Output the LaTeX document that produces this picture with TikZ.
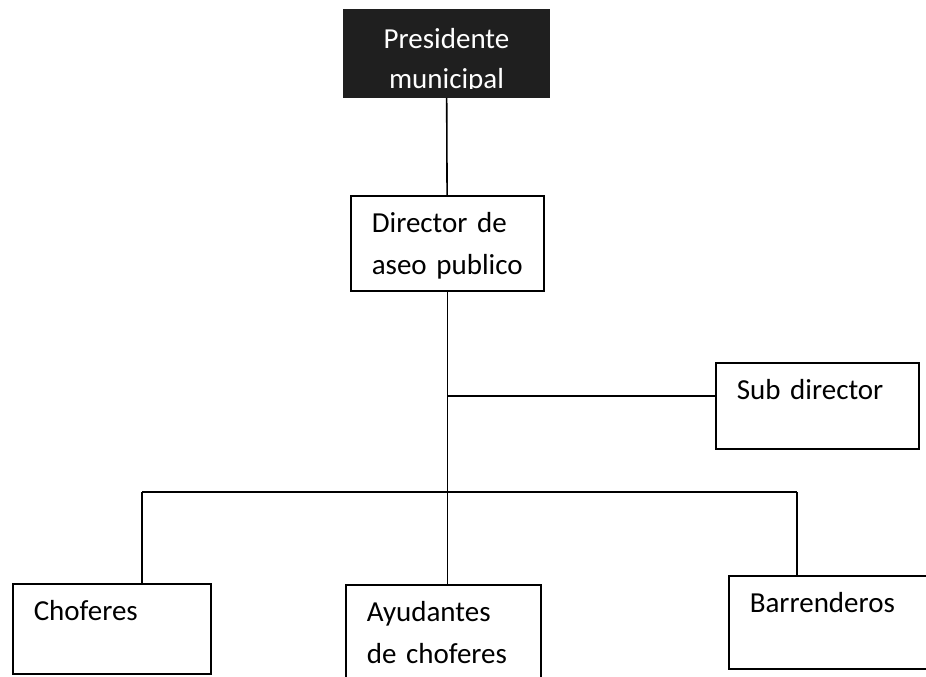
\documentclass[tikz,border=0pt]{standalone}
\usepackage{fontspec}
\setmainfont{Carlito}

\begin{document}
\begin{tikzpicture}[line width=0.9pt,
        org box/.style = {draw,anchor=north west,align=left,inner xsep=0.42cm,inner ysep=0pt,text height=0.74cm,font=\fontsize{16.5}{23.8}\selectfont},
        boss box/.style = {fill=black!88,text=white,anchor=north west,align=center,inner sep=0pt,outer sep=0pt,text width=4.14cm,text height=0.80cm,text depth=0.98cm,font=\fontsize{16.5}{22.7}\selectfont}]
        \useasboundingbox (0,0) rectangle (18.52,-13.54);
        % boxes
        \node[boss box] (pres) at (6.86,-0.18) {Presidente\\municipal};
        \fill[black!88] ([yshift=0.18cm]pres.south west) rectangle (pres.south east);
        \node[org box,text width=3.02cm,text depth=1.16cm] (dir) at (7.00,-3.90) {Director de\\aseo publico};
        \node[org box,text width=3.22cm,text depth=0.98cm] (sub) at (14.30,-7.24) {Sub director};
        \node[org box,text width=3.12cm,text depth=1.06cm] (chof) at (0.24,-11.66) {Choferes};
        \node[org box,text width=3.06cm,text depth=1.30cm] (ayud) at (6.90,-11.68) {Ayudantes\\de choferes};
        \node[org box,text width=3.26cm,text depth=1.12cm] (barr) at (14.56,-11.50) {Barrenderos};
        % lines
        \coordinate (busl) at (2.84,-9.84);
        \coordinate (busr) at (15.94,-9.84);
        \coordinate (subin) at ([yshift=2mm]sub.west);
        \draw (pres) -- (dir);
        \draw (dir) -- (dir |- ayud.north);
        \draw (subin) -- (dir.south |- subin);
        \draw (busl) -- (busr);
        \draw (busl) -- (busl |- chof.north);
        \draw (busr) -- (busr |- barr.north);
\end{tikzpicture}
\end{document}
